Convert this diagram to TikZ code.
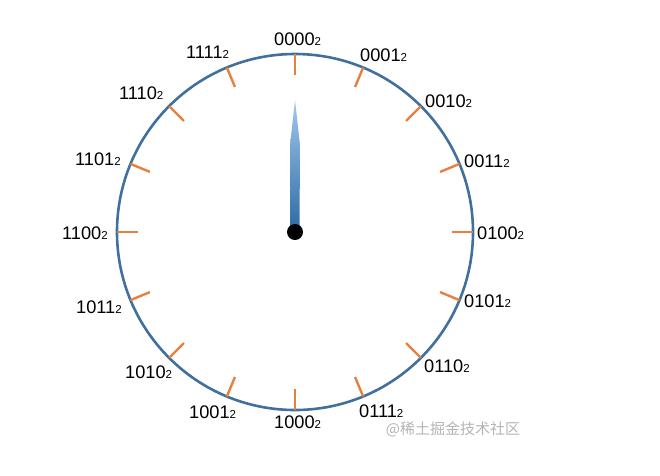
\documentclass[tikz,border=0pt]{standalone}
\usepackage{fontspec}
\setmainfont{Liberation Sans}
\newfontfamily\cjkfont{Noto Sans CJK SC}
\definecolor{rim}{HTML}{41709E}
\definecolor{tickc}{HTML}{E5803F}
\definecolor{needletop}{HTML}{A3C8EE}
\definecolor{needlebot}{HTML}{2C6AA3}
\definecolor{wm}{HTML}{B4B4B4}
\newcommand\subtwo{\raisebox{-0.5pt}{\fontsize{11.5}{11.5}\selectfont 2}}
\begin{document}
\begin{tikzpicture}[x=1pt,y=1pt,
  lab/.style={font=\fontsize{18.2}{18.2}\selectfont, inner sep=0pt, anchor=base west},
  tickline/.style={tickc, line width=2.4pt},
  rimline/.style={rim, line width=2.6pt}]
\useasboundingbox (-295,-243) rectangle (365,232);
\draw[rimline] (0,0) circle (178);
\foreach \k in {0,...,15} {
  \draw[tickline] ({90-22.5*\k}:157) -- ({90-22.5*\k}:178);
}
% labels: text, left edge (px), baseline (px)
\foreach \b/\px/\py [count=\k from 0] in {
  0000/274/45, 0001/360/61, 0010/425/107, 0011/464/167,
  0100/477/239, 0101/464/307, 0110/424/372, 0111/359/417,
  1000/274/428, 1001/189/418, 1010/125/378, 1011/76/313,
  1100/62/239, 1101/75/165, 1110/119/99, 1111/186/58} {
  \node[lab] (l\k) at ({\px-295},{232-\py}) {\b\subtwo};
}
\shade[top color=needletop, bottom color=needlebot]
  (-4.5,0) -- (-5,87) -- (0,132) -- (5,87) -- (4.5,0) -- cycle;
\node[circle, fill=black, minimum size=16pt, inner sep=0pt] (hub) at (0,0) {};
\node[font=\cjkfont\fontsize{15}{15}\selectfont, text=wm, inner sep=0pt] (mark) at (158,-197) {@稀土掘金技术社区};
\end{tikzpicture}
\end{document}
